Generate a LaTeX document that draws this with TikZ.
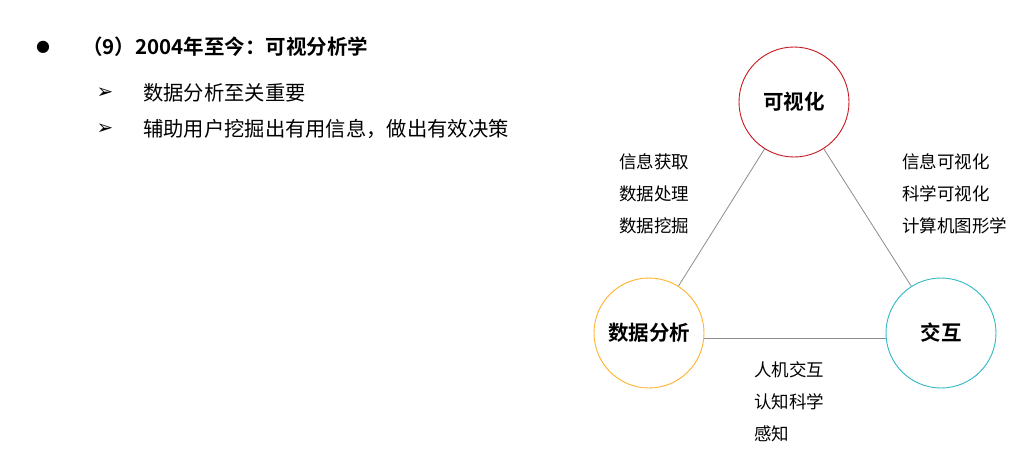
\documentclass[tikz,border=0pt]{standalone}
\usepackage{fontspec}
\setmainfont{Noto Sans CJK SC}[BoldFont={Noto Sans CJK SC Bold}]
\newfontfamily\symfont{DejaVu Sans}
\definecolor{visred}{HTML}{C8161E}
\definecolor{anaorange}{HTML}{FFB22C}
\definecolor{intteal}{HTML}{2EB8C4}
\definecolor{linkgray}{HTML}{8C8C8C}
\begin{document}
\begin{tikzpicture}[x=1pt,y=-1pt,
  hub/.style={circle,draw,line width=0.9pt,minimum size=110pt,inner sep=0pt,
    font=\fontsize{20.5}{24}\selectfont\bfseries},
  link/.style={draw=linkgray,line width=0.8pt},
  note/.style={anchor=west,inner sep=0pt,font=\fontsize{17.5}{20}\selectfont},
  item/.style={anchor=west,inner sep=0pt,font=\fontsize{20.3}{24}\selectfont}]
\useasboundingbox (0,0) rectangle (1036,475);
% heading and bullet list
\node[anchor=center,inner sep=0pt,font=\symfont\fontsize{16}{18}\selectfont] (dot) at (43,47) {●};
\node[anchor=west,inner sep=0pt,font=\fontsize{20.5}{24}\selectfont\bfseries] (title) at (82,47) {（9）2004年至今：可视分析学};
\foreach \name/\y/\txt in {itema/93/数据分析至关重要,itemb/129/辅助用户挖掘出有用信息，做出有效决策}{
 \node[inner sep=0pt,font=\symfont\fontsize{20}{22}\selectfont] (\name arr) at (105,\y) {➢};
 \node[item] (\name) at (143,\y) {\txt};}
% triangle of circles
\node[hub,draw=visred] (vis) at (794,102) {可视化};
\node[hub,draw=anaorange] (ana) at (649,333) {数据分析};
\node[hub,draw=intteal] (int) at (941,333) {交互};
\draw[link] (vis) -- (ana);
\draw[link] (vis) -- (int);
\draw[link] ([yshift=-5pt]ana.east) -- ([yshift=-5pt]int.west);
% edge notes
\foreach \name/\x/\y/\txt in {la/619/162/信息获取,lb/619/194/数据处理,lc/619/226/数据挖掘,
  ra/902/162/信息可视化,rb/902/194/科学可视化,rc/902/226/计算机图形学,
  ba/754/370/人机交互,bb/754/402/认知科学,bc/754/434/感知}{
 \node[note] (\name) at (\x,\y) {\txt};}
\end{tikzpicture}
\end{document}
